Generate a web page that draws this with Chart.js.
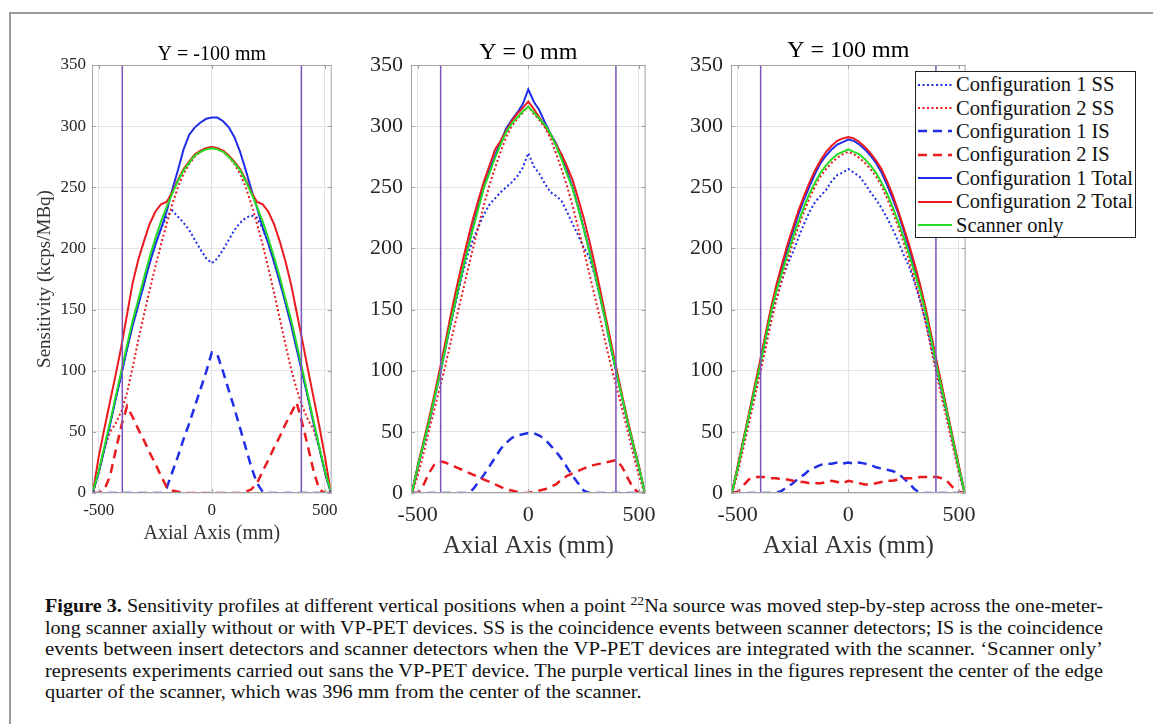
<!DOCTYPE html>
<html>
<head>
<meta charset="utf-8">
<title>Sensitivity profiles</title>
<script src="https://cdn.jsdelivr.net/npm/chart.js@4.4.1/dist/chart.umd.min.js"></script>
<style>
  html, body { margin: 0; padding: 0; background: #fff; }
  body { width: 1153px; height: 724px; position: relative; overflow: hidden;
         font-family: "Liberation Serif", "Times New Roman", serif; }
  .frame { position: absolute; left: 9px; top: 12px; width: 1200px; height: 800px;
           border-top: 2px solid #9a9a9a; border-left: 2px solid #9a9a9a; }
  canvas { position: absolute; }
  #legend { position: absolute; left: 915px; top: 71px; width: 219px; height: 164px;
            border: 1px solid #222; background: #fff; padding-top: 1px; }
  #legend .row { height: 23.4px; display: flex; align-items: center; white-space: nowrap;
                 font-size: 20.5px; color: #111; }
  #legend svg { margin: 0 4px 0 2px; flex: none; }
  #caption { position: absolute; left: 45px; top: 596px; font-size: 18px; line-height: 21.5px; color: #111; }
  #caption .line { white-space: nowrap; height: 21.5px; }
  #caption .line span { display: inline-block; transform-origin: 0 50%; }
  #caption sup { font-size: 0.68em; line-height: 0; vertical-align: 0.55em; }
</style>
</head>
<body>
<div class="frame"></div>
<canvas id="p1" width="345" height="560" style="left:0px;top:0px"></canvas>
<canvas id="p2" width="320" height="570" style="left:345px;top:0px"></canvas>
<canvas id="p3" width="320" height="570" style="left:665px;top:0px"></canvas>
<div id="legend"></div>
<div id="caption">
  <div class="line"><span><b>Figure 3.</b> Sensitivity profiles at different vertical positions when a point <sup>22</sup>Na source was moved step-by-step across the one-meter-</span></div>
  <div class="line"><span>long scanner axially without or with VP-PET devices. SS is the coincidence events between scanner detectors; IS is the coincidence</span></div>
  <div class="line"><span>events between insert detectors and scanner detectors when the VP-PET devices are integrated with the scanner. ‘Scanner only’</span></div>
  <div class="line"><span>represents experiments carried out sans the VP-PET device. The purple vertical lines in the figures represent the center of the edge</span></div>
  <div class="line"><span>quarter of the scanner, which was 396 mm from the center of the scanner.</span></div>
</div>
<script>
// =========================
//  Sensitivity profiles, three source heights
// =========================

// ----- Data -----
const X_MM = [-525, -500, -475, -450, -425, -400, -375, -350, -325, -300, -275, -250, -225, -200, -175, -150, -125, -100, -75, -50, -25,
  0, 25, 50, 75, 100, 125, 150, 175, 200, 225, 250, 275, 300, 325, 350, 375, 400, 425, 450, 475, 500, 525];

const X_TICKS = [-500, 0, 500];
const Y_TICKS = [0, 50, 100, 150, 200, 250, 300, 350];
const QUARTER_MM = [-396, 396];   // centre of the edge quarter

const SERIES_LABELS = [
  "Configuration 1 SS", "Configuration 2 SS", "Configuration 1 IS", "Configuration 2 IS",
  "Configuration 1 Total", "Configuration 2 Total", "Scanner only"
];
const PANEL_TITLES = ["Y = -100 mm", "Y = 0 mm", "Y = 100 mm"];

// Y = -100 mm
const P1_CFG1_SS  = [1, 17, 36, 56, 77, 97, 118, 137, 154, 171, 188, 203, 216, 226, 231, 226, 221, 215, 207, 199, 192,
  188, 192, 199, 207, 215, 221, 225, 227, 225, 216, 204, 189, 173, 156, 138, 118, 98, 78, 57, 37, 17, 1];
const P1_CFG2_SS  = [1, 17, 36, 50, 57, 67, 82, 103, 125, 146, 166, 185, 203, 220, 236, 250, 261, 269, 275, 279, 282,
  283, 282, 279, 275, 269, 261, 250, 236, 220, 203, 184, 164, 143, 122, 102, 85, 71, 60, 52, 37, 17, 1];
const P1_CFG1_IS  = [0, 0, 0, 0, 0, 0, 0, 0, 0, 0, 0, 0, 0, 4, 17, 30, 44, 57, 71, 85, 99,
  115, 113, 99, 84, 69, 53, 37, 21, 8, 1, 0, 0, 0, 0, 0, 0, 0, 0, 0, 0, 0, 0];
const P1_CFG2_IS  = [0, 0, 3, 14, 35, 55, 71, 62, 52, 43, 33, 24, 14, 5, 2, 1, 0, 0, 0, 0, 0,
  0, 0, 0, 0, 0, 0, 1, 3, 8, 18, 27, 37, 46, 56, 65, 74, 57, 38, 18, 3, 0, 0];
const P1_CFG1_TOT = [1, 17, 36, 56, 77, 97, 118, 137, 154, 171, 188, 203, 216, 230, 248, 264, 281, 293, 299, 303, 306,
  307, 307, 304, 299, 291, 279, 264, 248, 233, 217, 204, 189, 173, 156, 138, 118, 98, 78, 57, 37, 17, 1];
const P1_CFG2_TOT = [2, 30, 53, 75, 97, 120, 146, 172, 191, 206, 220, 230, 236, 238, 246, 256, 265, 271, 277, 280, 282,
  283, 282, 280, 276, 271, 265, 256, 246, 238, 236, 230, 220, 206, 190, 171, 148, 125, 101, 78, 55, 30, 2];
const P1_SCANNER  = [2, 18, 38, 58, 79, 100, 121, 141, 158, 176, 193, 208, 222, 234, 245, 255, 264, 270, 276, 279, 281,
  282, 281, 279, 275, 270, 264, 255, 245, 234, 222, 208, 193, 177, 159, 142, 122, 101, 80, 59, 38, 18, 2];

// Y = 0 mm
const P2_CFG1_SS  = [1, 20, 38, 56, 76, 96, 117, 138, 158, 177, 194, 207, 218, 228, 236, 241, 246, 250, 254, 259, 266,
  278, 267, 261, 253, 246, 243, 239, 230, 220, 211, 201, 193, 178, 159, 139, 117, 96, 76, 56, 38, 20, 1];
const P2_CFG2_SS  = [0, 14, 31, 50, 68, 86, 104, 124, 143, 162, 181, 200, 218, 236, 252, 266, 279, 291, 300, 306, 311,
  316, 310, 305, 299, 290, 278, 265, 251, 235, 217, 199, 180, 161, 142, 122, 103, 86, 68, 50, 31, 14, 0];
const P2_CFG1_IS  = [0, 0, 0, 0, 0, 0, 0, 0, 0, 0, 0, 3, 9, 15, 22, 29, 36, 41, 45, 47, 48,
  49, 49, 47, 44, 39, 34, 28, 21, 14, 8, 2, 0, 0, 0, 0, 0, 0, 0, 0, 0, 0, 0];
const P2_CFG2_IS  = [0, 0, 6, 16, 23, 26, 25, 23, 21, 19, 17, 15, 13, 11, 9, 7, 5, 3, 2, 1, 0,
  0, 1, 2, 3, 5, 7, 11, 14, 16, 18, 20, 22, 23, 24, 25, 26, 27, 21, 12, 4, 0, 0];
const P2_CFG1_TOT = [1, 21, 39, 57, 77, 97, 118, 140, 160, 180, 199, 218, 235, 251, 264, 276, 287, 298, 305, 311, 318,
  330, 320, 313, 303, 294, 286, 276, 263, 250, 234, 217, 199, 180, 160, 140, 118, 97, 77, 57, 39, 21, 1];
const P2_CFG2_TOT = [1, 22, 41, 60, 80, 101, 123, 146, 167, 187, 206, 224, 240, 255, 268, 281, 288, 296, 304, 310, 315,
  320, 314, 307, 300, 293, 285, 277, 267, 256, 241, 225, 207, 187, 166, 144, 122, 100, 79, 59, 40, 22, 1];
const P2_SCANNER  = [1, 21, 39, 57, 77, 97, 118, 140, 160, 180, 198, 216, 233, 250, 262, 274, 285, 295, 302, 307, 312,
  316, 311, 306, 301, 294, 284, 273, 261, 249, 233, 216, 198, 180, 160, 140, 118, 97, 77, 57, 39, 21, 1];

// Y = 100 mm
const P3_CFG1_SS  = [0, 19, 39, 60, 80, 100, 121, 142, 159, 174, 187, 197, 209, 220, 230, 238, 243, 248, 255, 260, 262,
  265, 262, 259, 253, 246, 240, 233, 225, 216, 206, 195, 185, 172, 157, 140, 120, 100, 80, 60, 39, 19, 0];
const P3_CFG2_SS  = [0, 16, 36, 56, 76, 96, 117, 139, 158, 174, 190, 205, 218, 230, 241, 251, 259, 265, 270, 274, 277,
  279, 277, 274, 270, 265, 259, 251, 241, 230, 218, 205, 190, 174, 158, 139, 117, 96, 76, 56, 36, 16, 0];
const P3_CFG1_IS  = [0, 0, 0, 0, 0, 0, 0, 0, 0, 2, 5, 8, 12, 15, 19, 21, 23, 24, 24, 25, 24,
  25, 24, 25, 24, 23, 21, 20, 19, 18, 16, 12, 8, 3, 0, 0, 0, 0, 0, 0, 0, 0, 0];
const P3_CFG2_IS  = [0, 1, 6, 11, 13, 13, 13, 12, 12, 11, 11, 10, 9, 9, 8, 8, 8, 9, 10, 9, 8,
  10, 9, 8, 7, 7, 8, 9, 10, 10, 11, 12, 12, 12, 13, 13, 13, 13, 12, 9, 4, 1, 0];
const P3_CFG1_TOT = [1, 21, 42, 63, 84, 105, 127, 149, 168, 184, 200, 214, 228, 240, 251, 261, 270, 276, 281, 285, 287,
  289, 288, 285, 281, 276, 270, 262, 252, 241, 229, 215, 200, 184, 168, 149, 127, 105, 84, 63, 42, 21, 1];
const P3_CFG2_TOT = [1, 22, 43, 64, 86, 107, 129, 151, 170, 187, 203, 217, 231, 243, 254, 264, 272, 279, 284, 288, 290,
  291, 290, 287, 283, 278, 272, 265, 255, 244, 231, 217, 203, 187, 170, 151, 129, 107, 86, 64, 43, 22, 1];
const P3_SCANNER  = [1, 20, 41, 62, 83, 103, 125, 147, 165, 180, 195, 209, 222, 234, 245, 254, 262, 268, 273, 277, 279,
  281, 279, 277, 273, 268, 262, 254, 245, 234, 222, 209, 195, 180, 165, 147, 125, 103, 83, 62, 41, 20, 1];

const PANEL_SERIES = [
  [P1_CFG1_SS, P1_CFG2_SS, P1_CFG1_IS, P1_CFG2_IS, P1_CFG1_TOT, P1_CFG2_TOT, P1_SCANNER],
  [P2_CFG1_SS, P2_CFG2_SS, P2_CFG1_IS, P2_CFG2_IS, P2_CFG1_TOT, P2_CFG2_TOT, P2_SCANNER],
  [P3_CFG1_SS, P3_CFG2_SS, P3_CFG1_IS, P3_CFG2_IS, P3_CFG1_TOT, P3_CFG2_TOT, P3_SCANNER]
];

// ----- Styles -----
const FONT = "'Liberation Serif', 'Times New Roman', serif";
const BLUE = "#1f2ee6", RED = "#ea1a1e", GREEN = "#25dc25", PURPLE = "#7a52b8";
const BOX_COLOR = "#a3a3a3", GRID_COLOR = "#e4e4e4", TEXT_COLOR = "#262626";
const STYLES = [
  { color: BLUE,  dash: [2, 2.5], width: 2 },
  { color: RED,   dash: [2, 2.5], width: 2 },
  { color: BLUE,  dash: [9, 6],   width: 2.5 },
  { color: RED,   dash: [9, 6],   width: 2.5 },
  { color: BLUE,  dash: [],       width: 2 },
  { color: RED,   dash: [],       width: 2 },
  { color: GREEN, dash: [],       width: 2 }
];

// per-panel layout (px); title box = size + padding = 65
const LAYOUT = [
  { pad: { top: 0, right: 11, bottom: 10, left: 0 }, yW: 92, xH: 57, tick: 17, xTickPad: 7, yTickPad: 6,
    title: 20, titlePad: { top: 45, bottom: 0 }, xTitle: 20, xTitlePad: 4, yTitle: true },
  { pad: { top: 0, right: 10, bottom: 8, left: 0 }, yW: 66, xH: 69, tick: 22, xTickPad: 9, yTickPad: 8,
    title: 24, titlePad: { top: 41, bottom: 0 }, xTitle: 25, xTitlePad: 1, yTitle: false },
  { pad: { top: 0, right: 11, bottom: 8, left: 0 }, yW: 66, xH: 69, tick: 22, xTickPad: 9, yTickPad: 8,
    title: 24, titlePad: { top: 39, bottom: 2 }, xTitle: 25, xTitlePad: 1, yTitle: false }
];

Chart.defaults.font.family = FONT;
Chart.defaults.color = TEXT_COLOR;

// ----- MATLAB-like box with inward ticks -----
const matlabBox = {
  id: "matlabBox",
  afterDatasetsDraw(chart) {
    const { ctx, chartArea: a } = chart;
    const x = chart.scales.x, y = chart.scales.y;
    ctx.save();
    ctx.strokeStyle = BOX_COLOR;
    ctx.lineWidth = 1;
    ctx.strokeRect(a.left + 0.5, a.top + 0.5, a.width - 1, a.height - 1);
    ctx.beginPath();
    X_TICKS.forEach(v => {
      const px = Math.round(x.getPixelForValue(v)) + 0.5;
      ctx.moveTo(px, a.bottom); ctx.lineTo(px, a.bottom - 4);
      ctx.moveTo(px, a.top);    ctx.lineTo(px, a.top + 4);
    });
    Y_TICKS.forEach(v => {
      const py = Math.round(y.getPixelForValue(v)) + 0.5;
      ctx.moveTo(a.left, py);  ctx.lineTo(a.left + 4, py);
      ctx.moveTo(a.right, py); ctx.lineTo(a.right - 4, py);
    });
    ctx.stroke();
    ctx.restore();
  }
};

// ----- Chart builder -----
function buildPanel(idx) {
  const L = LAYOUT[idx];
  const toPts = arr => X_MM.map((x, i) => ({ x, y: arr[i] }));

  const datasets = PANEL_SERIES[idx].map((arr, k) => ({
    label: SERIES_LABELS[k],
    data: toPts(arr),
    borderColor: STYLES[k].color,
    borderDash: STYLES[k].dash,
    borderWidth: STYLES[k].width,
    borderCapStyle: "butt",
    pointRadius: 0,
    tension: 0,
    fill: false,
    order: 10 - k
  }));
  QUARTER_MM.forEach(q => datasets.push({
    label: "edge quarter",
    data: [{ x: q, y: Y_TICKS[0] }, { x: q, y: Y_TICKS[Y_TICKS.length - 1] }],
    borderColor: PURPLE,
    borderWidth: 1.5,
    pointRadius: 0,
    fill: false,
    order: 0
  }));

  return new Chart(document.getElementById("p" + (idx + 1)), {
    type: "line",
    data: { datasets },
    options: {
      responsive: false,
      animation: false,
      layout: { padding: L.pad },
      plugins: {
        legend: { display: false },
        tooltip: { enabled: false },
        title: {
          display: true,
          text: PANEL_TITLES[idx],
          fullSize: false,
          color: "#000",
          font: { size: L.title, weight: "normal", lineHeight: 1 },
          padding: L.titlePad
        }
      },
      scales: {
        x: {
          type: "linear",
          min: -530, max: 530,
          afterBuildTicks: ax => { ax.ticks = X_TICKS.map(v => ({ value: v })); },
          afterFit: ax => { ax.height = L.xH; },
          grid: { color: GRID_COLOR, drawTicks: false },
          border: { display: false },
          ticks: { font: { size: L.tick }, padding: L.xTickPad, maxRotation: 0, callback: v => String(v) },
          title: { display: true, text: "Axial Axis (mm)", color: "#333", font: { size: L.xTitle },
                   padding: { top: 0, bottom: L.xTitlePad } }
        },
        y: {
          type: "linear",
          min: 0, max: 350,
          afterBuildTicks: ax => { ax.ticks = Y_TICKS.map(v => ({ value: v })); },
          afterFit: ax => { ax.width = L.yW; },
          grid: { color: GRID_COLOR, drawTicks: false },
          border: { display: false },
          ticks: { font: { size: L.tick }, padding: L.yTickPad, callback: v => String(v) },
          title: { display: L.yTitle, text: "Sensitivity (kcps/MBq)", color: "#333", font: { size: 19 },
                   padding: { top: 34, bottom: 0 } }
        }
      }
    },
    plugins: [matlabBox]
  });
}

[0, 1, 2].forEach(buildPanel);

// ----- Legend (HTML, same styles as the datasets) -----
const legend = document.getElementById("legend");
SERIES_LABELS.forEach((lab, k) => {
  const s = STYLES[k];
  const row = document.createElement("div");
  row.className = "row";
  row.innerHTML =
    `<svg width="34" height="10"><line x1="0" y1="5" x2="34" y2="5" stroke="${s.color}" stroke-width="${s.width}"` +
    (s.dash.length ? ` stroke-dasharray="${s.dash.join(" ")}"` : "") + `/></svg><span>${lab}</span>`;
  legend.appendChild(row);
});

// ----- Caption: fit lines to the justified width -----
const CAPTION_W = 1058;
const spans = [...document.querySelectorAll("#caption .line span")];
const scales = spans.map(sp => CAPTION_W / sp.getBoundingClientRect().width);
const meanScale = scales.slice(0, 4).reduce((a, b) => a + b, 0) / 4;
spans.forEach((sp, i) => {
  sp.style.transform = `scaleX(${i < 4 ? scales[i] : meanScale})`;
});
</script>
</body>
</html>
